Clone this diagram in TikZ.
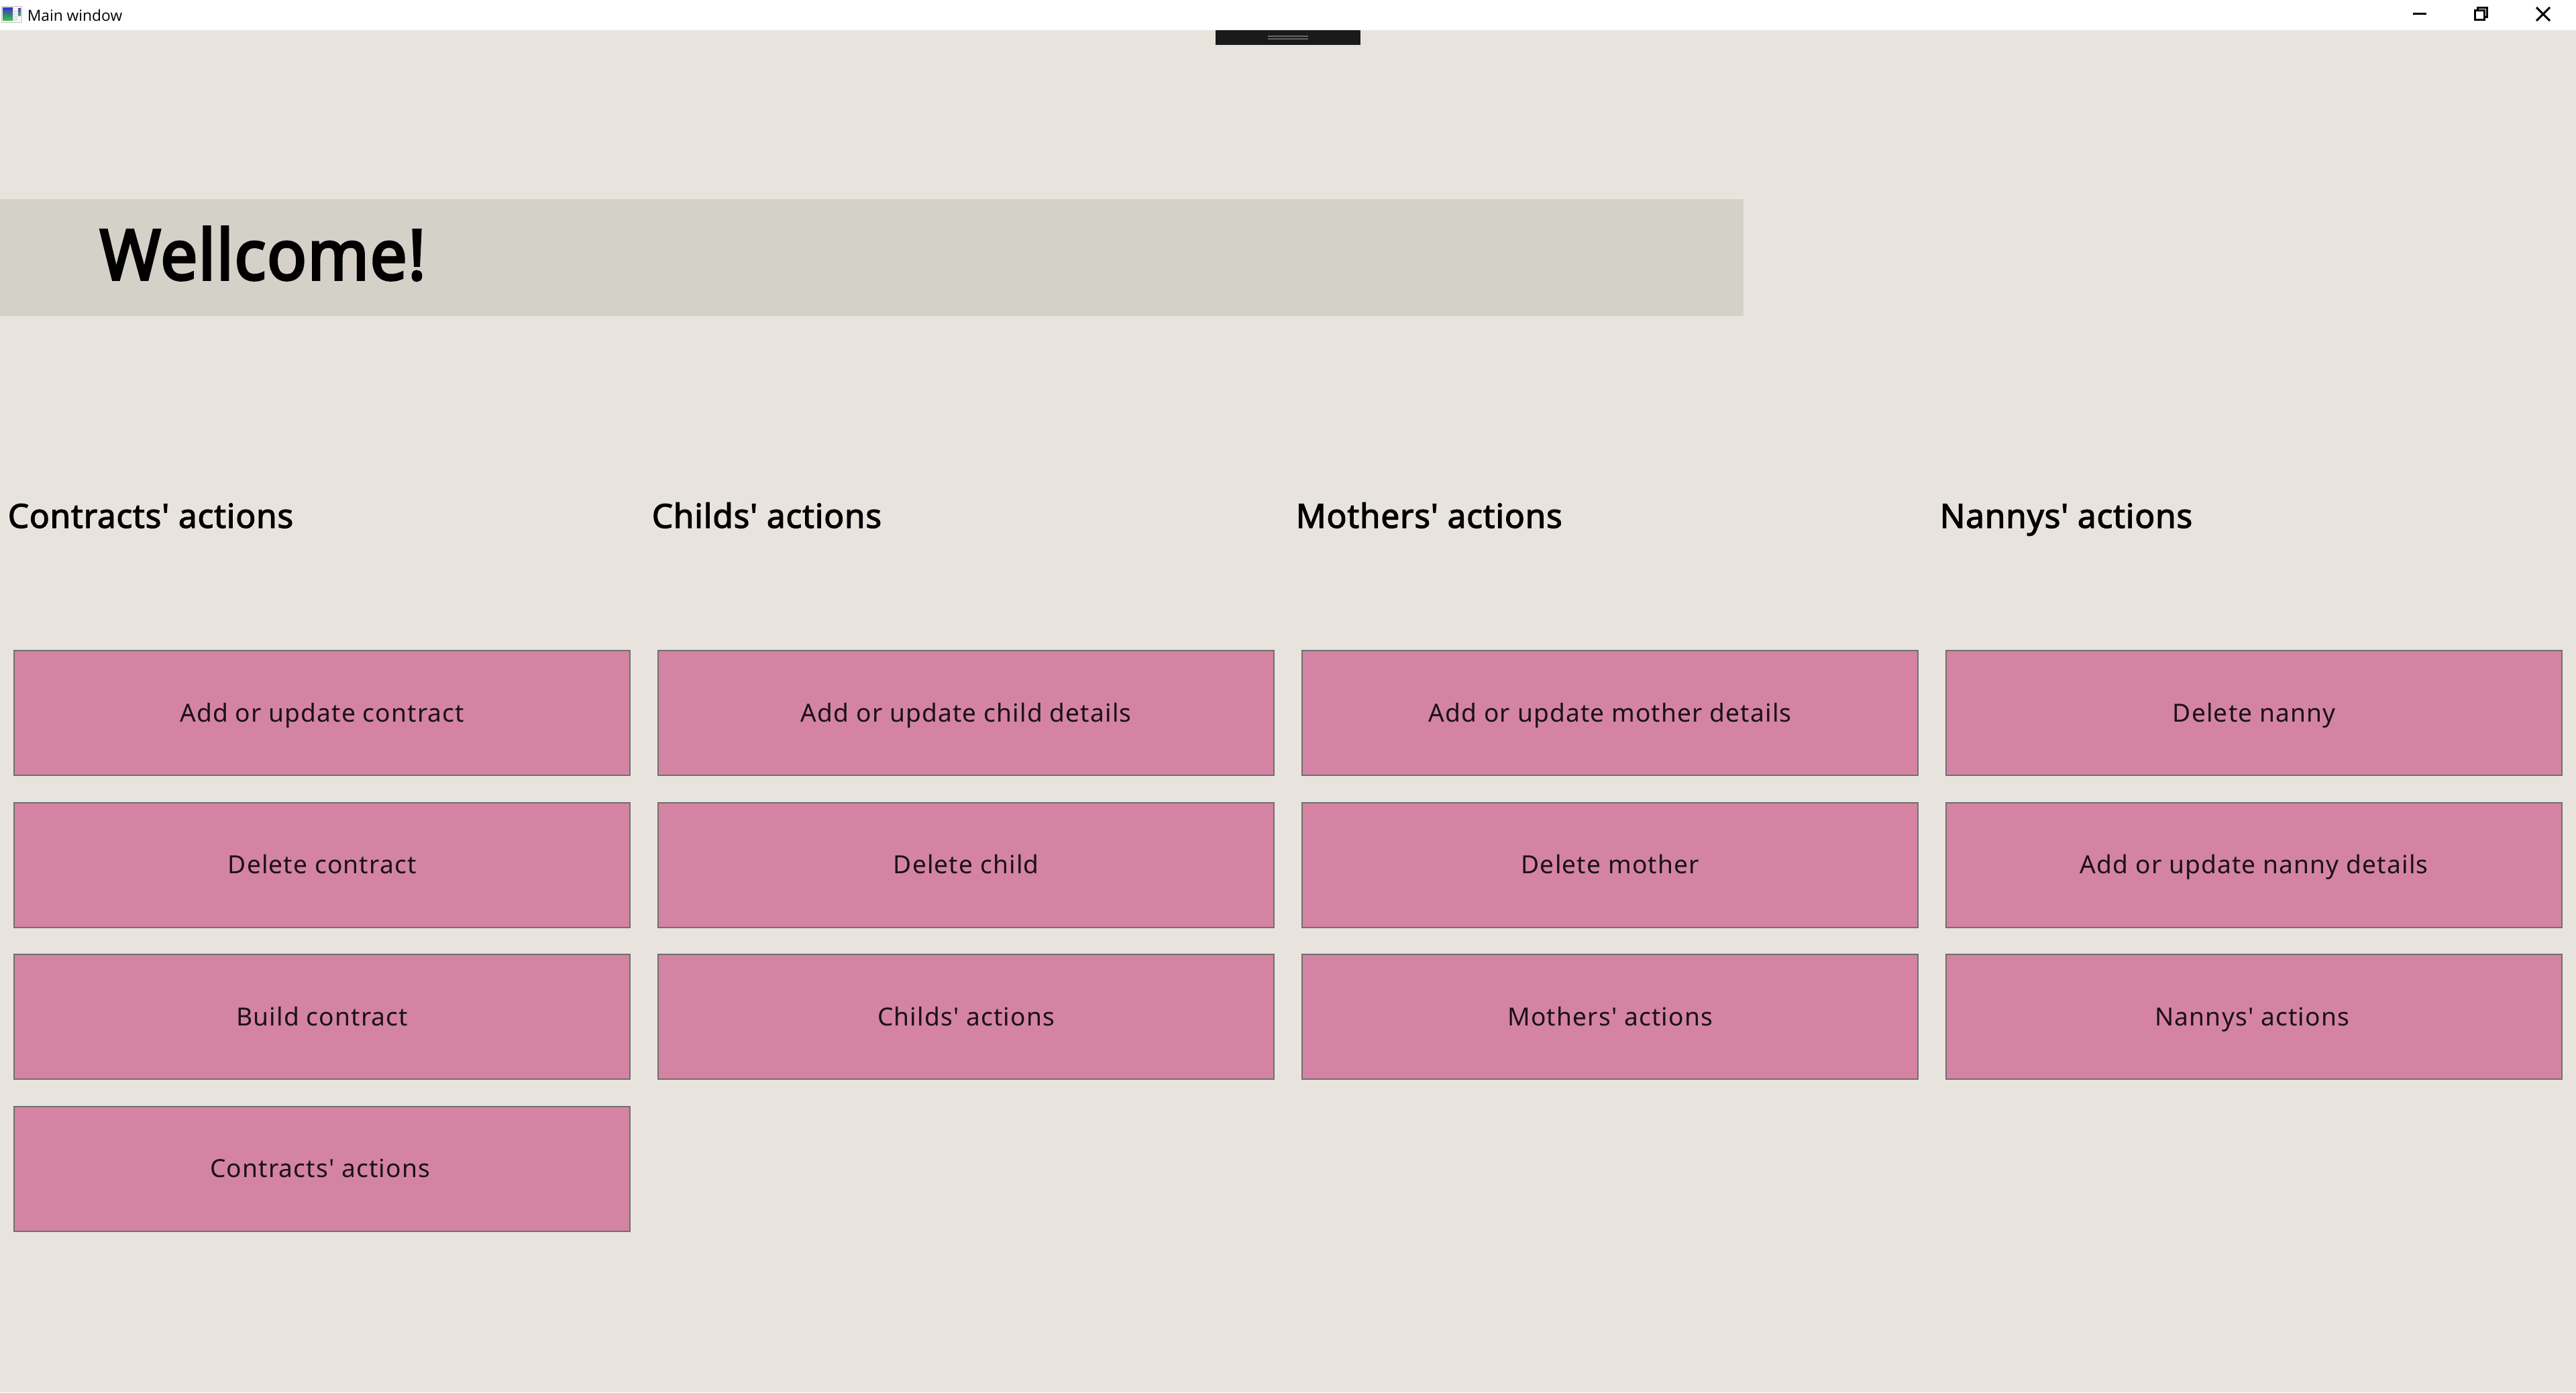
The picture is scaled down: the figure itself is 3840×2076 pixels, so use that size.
\documentclass[tikz,border=0pt]{standalone}
\usepackage{fontspec}
\setmainfont{Noto Sans}
\newfontfamily\barfont{Open Sans}
\newfontfamily\btnfont[LetterSpace=3]{Noto Sans}
\newfontfamily\headfont[FakeBold=2.4,LetterSpace=1.5]{Noto Sans}
\newfontfamily\titlefont[FakeBold=3.4,FakeStretch=0.94,LetterSpace=1.5]{Noto Sans}
\definecolor{pagebg}{HTML}{E8E4DD}
\definecolor{bannerbg}{HTML}{D4D1C9}
\definecolor{btnfill}{HTML}{D484A2}
\definecolor{btnline}{HTML}{707070}
\definecolor{btntext}{HTML}{1A1018}
\definecolor{handle}{HTML}{1A1A1A}
\definecolor{handleline}{HTML}{666666}
\tikzset{
  x=0.25pt,y=-0.25pt,
  btn/.style={draw=btnline,line width=0.5pt,fill=btnfill,rectangle,inner sep=0pt,text=btntext,
    minimum width=229.6pt,minimum height=46.5pt,anchor=north west,align=center,
    text height=9pt,text depth=2.5pt,font=\btnfont\fontsize{9.3}{12}\selectfont},
  heading/.style={anchor=base west,inner sep=0pt,font=\headfont\fontsize{12.4}{15}\selectfont},
  winbtn/.style={line width=0.75pt,black},
}
\begin{document}
\begin{tikzpicture}
\useasboundingbox (0,0) rectangle (3840,2076);
\fill[pagebg] (0,0) rectangle (3840,2076);
\fill[white] (0,0) rectangle (3840,45);
% title bar
\fill[gray!45] (2,9) rectangle (33,34);
\fill[gray!8] (3,10) rectangle (32,33);
\shade[top color=blue!55!gray,bottom color=green!55!gray] (4,12) rectangle (19,31);
\shade[top color=blue!45!gray,bottom color=green!45!gray] (27,13) rectangle (31,24);
\fill[gray!40] (20,17) rectangle (26,18) (20,21) rectangle (26,22) (20,25) rectangle (26,26) (20,29) rectangle (26,30);
\node[anchor=base west,inner sep=0pt,font=\barfont\fontsize{5.7}{7}\selectfont] (wintitle) at (40,32) {Main window};
\draw[winbtn] (3597,20.5) -- (3617,20.5);
\draw[winbtn] (3689,16) rectangle (3703,30);
\draw[winbtn] (3693,16) -- (3693,12) -- (3707,12) -- (3707,26) -- (3703,26);
\draw[winbtn] (3781,11) -- (3801,31) (3801,11) -- (3781,31);
% handle
\fill[handle] (1812,45) rectangle (2028,67);
\fill[handleline] (1890,53) rectangle (1950,55);
\fill[handleline] (1890,57) rectangle (1950,59);
% banner
\fill[bannerbg] (0,297) rectangle (2599,471);
\node[anchor=base west,inner sep=0pt,font=\titlefont\fontsize{26}{32}\selectfont] (title) at (148,417) {Wellcome!};
% headings
\node[heading] (h1) at (11,787) {Contracts' actions};
\node[heading] (h2) at (971,787) {Childs' actions};
\node[heading] (h3) at (1931,787) {Mothers' actions};
\node[heading] (h4) at (2891,787) {Nannys' actions};
% buttons
\node[btn] (c1) at (20,969) {Add or update contract};
\node[btn] (c2) at (20,1195.5) {Delete contract};
\node[btn] (c3) at (20,1422) {Build contract};
\node[btn] (c4) at (20,1648.5) {Contracts' actions\hspace*{1.5pt}};
\node[btn] (d1) at (980,969) {Add or update child details};
\node[btn] (d2) at (980,1195.5) {Delete child};
\node[btn] (d3) at (980,1422) {Childs' actions};
\node[btn] (m1) at (1940,969) {Add or update mother details};
\node[btn] (m2) at (1940,1195.5) {Delete mother};
\node[btn] (m3) at (1940,1422) {Mothers' actions};
\node[btn] (n1) at (2900,969) {Delete nanny};
\node[btn] (n2) at (2900,1195.5) {Add or update nanny details};
\node[btn] (n3) at (2900,1422) {Nannys' actions\hspace*{1.5pt}};
\end{tikzpicture}
\end{document}
